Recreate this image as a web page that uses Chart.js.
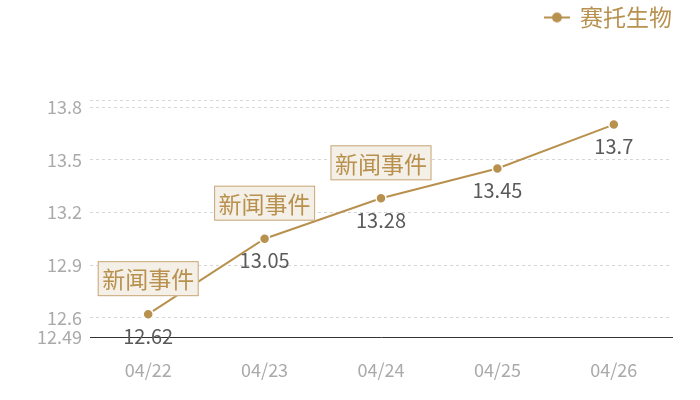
<!DOCTYPE html>
<html>
<head>
<meta charset="utf-8">
<script src="https://cdn.jsdelivr.net/npm/chart.js@4"></script>
<style>
  html, body { margin: 0; padding: 0; background: #fff; }
  #wrap { width: 700px; height: 400px; }
</style>
</head>
<body>
<div id="wrap"><canvas id="chart"></canvas></div>
<script>
// data
var dates = ['04/22', '04/23', '04/24', '04/25', '04/26'];
var prices = [12.62, 13.05, 13.28, 13.45, 13.7];
var eventIdx = [0, 1, 2];
var eventText = '新闻事件';
var yTicks = [12.49, 12.6, 12.9, 13.2, 13.5, 13.8];
var yMin = 12.49, yMax = 13.84;
var seriesName = '赛托生物';

var gold = '#b8914f';
var font = '"Noto Sans CJK SC", "Noto Sans", sans-serif';

// legend marker: short line with a dot
var mark = document.createElement('canvas');
mark.width = 26; mark.height = 12;
var mc = mark.getContext('2d');
mc.strokeStyle = gold; mc.lineWidth = 2;
mc.beginPath(); mc.moveTo(0, 6); mc.lineTo(26, 6); mc.stroke();
mc.fillStyle = gold;
mc.beginPath(); mc.arc(13, 6, 5, 0, Math.PI * 2); mc.fill();

// extra room below the legend
var legendGap = {
  id: 'legendGap',
  beforeInit: function (chart) {
    var fit = chart.legend.fit;
    chart.legend.fit = function () {
      fit.bind(chart.legend)();
      this.height += 61;
    };
  }
};

// draws value labels and the event boxes
var labelsPlugin = {
  id: 'labels',
  afterDatasetsDraw: function (chart) {
    var ctx = chart.ctx;
    var pts = chart.getDatasetMeta(0).data;
    ctx.save();
    ctx.font = '20px ' + font;
    ctx.fillStyle = '#5a5a5a';
    ctx.textAlign = 'center';
    ctx.textBaseline = 'middle';
    pts.forEach(function (p, i) {
      ctx.fillText(String(prices[i]), p.x, p.y + 22);
    });
    ctx.font = '23px ' + font;
    eventIdx.forEach(function (i) {
      var p = pts[i];
      var w = 101, h = 35;
      var x = p.x - w / 2, y = p.y - 18 - h;
      ctx.fillStyle = '#f4efe7';
      ctx.fillRect(x, y, w, h);
      ctx.strokeStyle = '#c9a877';
      ctx.lineWidth = 1;
      ctx.strokeRect(x + 0.5, y + 0.5, w - 1, h - 1);
      ctx.fillStyle = gold;
      ctx.fillText(eventText, p.x, y + h / 2 + 1);
    });
    ctx.restore();
  }
};

new Chart(document.getElementById('chart'), {
  type: 'line',
  data: {
    labels: dates,
    datasets: [{
      label: seriesName,
      data: prices,
      borderColor: gold,
      backgroundColor: gold,
      borderWidth: 2,
      pointRadius: 5,
      pointBorderColor: '#fff',
      pointBorderWidth: 1.5,
      pointStyle: 'circle',
      tension: 0
    }]
  },
  options: {
    responsive: true,
    maintainAspectRatio: false,
    animation: false,
    layout: { padding: { left: 10, right: 28, top: 6, bottom: 0 } },
    plugins: {
      tooltip: { enabled: false },
      legend: {
        position: 'top',
        align: 'end',
        labels: {
          usePointStyle: true,
          pointStyle: mark,
          color: gold,
          font: { size: 23, family: font },
          padding: 0,
          boxWidth: 26
        }
      }
    },
    scales: {
      x: {
        offset: true,
        afterFit: function (axis) { axis.height = 63; },
        grid: { display: false, drawTicks: false },
        border: { display: true, color: '#333', width: 1 },
        ticks: { color: '#aaa', font: { size: 18, family: font }, padding: 22 }
      },
      y: {
        min: yMin,
        max: yMax,
        afterFit: function (axis) { axis.width = 80; },
        afterBuildTicks: function (axis) {
          axis.ticks = yTicks.concat([yMax]).map(function (v) { return { value: v }; });
        },
        grid: {
          drawTicks: false,
          color: function (c) { return c.tick && c.tick.value === yMin ? 'rgba(0,0,0,0)' : '#d6d6d6'; }
        },
        border: { display: false, dash: [3, 3] },
        ticks: {
          color: '#aaa',
          font: { size: 18, family: font },
          padding: 8,
          callback: function (v) { return v === yMax ? '' : String(v); }
        }
      }
    }
  },
  plugins: [legendGap, labelsPlugin]
});
</script>
</body>
</html>
